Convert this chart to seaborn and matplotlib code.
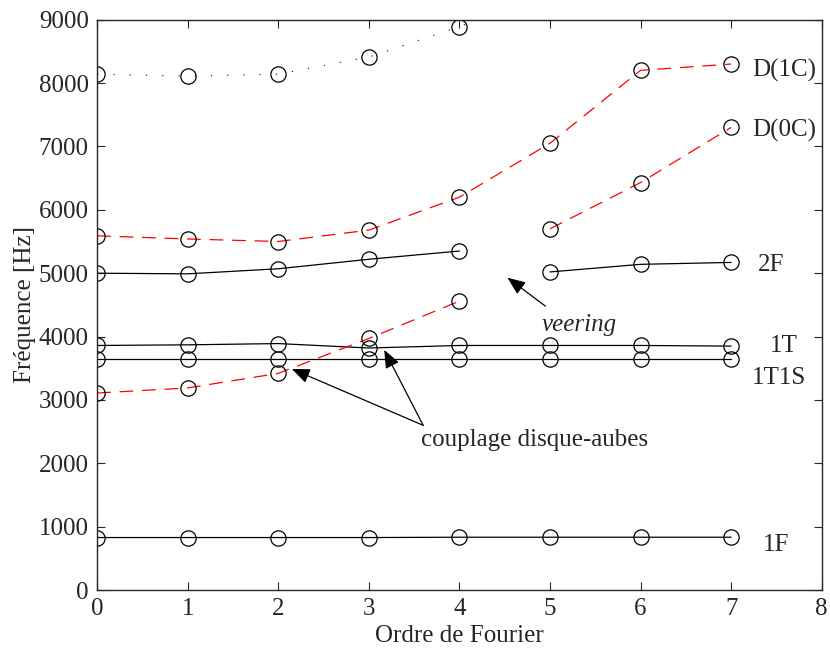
import matplotlib
matplotlib.use("Agg")
import matplotlib.pyplot as plt
import seaborn as sns

# ── Data ──────────────────────────────────────────────────────────────────────
ordre_a = [0, 1, 2, 3, 4]
ordre_b = [5, 6, 7]
ordre_all = [0, 1, 2, 3, 4, 5, 6, 7]
ordre_dot = [0, 1, 2, 3, 4, 5]

f_1F = [830, 830, 830, 830, 835, 835, 835, 835]
f_1T1S = [3640, 3640, 3640, 3640, 3640, 3640, 3640, 3640]
f_1T = [3860, 3870, 3890, 3820, 3860, 3860, 3860, 3850]
f_2F_a = [5000, 4990, 5070, 5220, 5350]
f_2F_b = [5020, 5140, 5170]
f_red_low_a = [3110, 3190, 3420, 3970, 4560]
f_red_low_b = [5700, 6430, 7300]
f_red_up = [5590, 5540, 5500, 5680, 6200, 7050, 8200, 8300]
f_dot = [8140, 8110, 8140, 8410, 8890, 9440]

mode_labels = ["D(1C)", "D(0C)", "2F", "1T", "1T1S", "1F"]
label_x = [7.23, 7.23, 7.3, 7.43, 7.23, 7.35]
label_y = [8200, 7250, 5130, 3850, 3340, 720]

# ── Style ─────────────────────────────────────────────────────────────────────
sns.set_style("ticks")
plt.rcParams["font.family"] = ["Liberation Serif", "DejaVu Serif"]
plt.rcParams["xtick.direction"] = "in"
plt.rcParams["ytick.direction"] = "in"
plt.rcParams["xtick.top"] = True
plt.rcParams["ytick.right"] = True

fig = plt.figure(figsize=(8.3, 6.55), dpi=100)
ax = fig.add_axes([0.117, 0.099, 0.873, 0.871])

mk = dict(marker="o", markersize=11, markerfacecolor="none",
          markeredgecolor="black", markeredgewidth=0.9)

def draw(x, y, color, dashes):
    sns.lineplot(x=x, y=y, ax=ax, color=color, linewidth=0.9,
                 sort=False, estimator=None)
    if dashes:
        ax.lines[-1].set_dashes(dashes)
    ax.plot(x, y, linestyle="none", **mk)

draw(ordre_all, f_1F, "black", None)
draw(ordre_all, f_1T1S, "black", None)
draw(ordre_all, f_1T, "black", None)
draw(ordre_a, f_2F_a, "black", None)
draw(ordre_b, f_2F_b, "black", None)
draw(ordre_dot, f_dot, "#333333", [1, 12])
draw(ordre_a, f_red_low_a, "red", [11, 7])
draw(ordre_b, f_red_low_b, "red", [11, 7])
draw(ordre_all, f_red_up, "red", [11, 7])

ax.set_xlim(0, 8)
ax.set_ylim(0, 9000)
ax.set_xticks(range(0, 9))
ax.set_yticks(range(0, 9001, 1000))
ax.tick_params(labelsize=18, length=6, width=0.8, pad=6)
for s in ax.spines.values():
    s.set_linewidth(1.0)
ax.set_xlabel("Ordre de Fourier", fontsize=18, labelpad=3)
ax.set_ylabel("Fréquence [Hz]", fontsize=18, labelpad=2)

for lab, lx, ly in zip(mode_labels, label_x, label_y):
    ax.text(lx, ly, lab, fontsize=18, va="center", ha="left")

# annotations
arrow = dict(arrowstyle="-|>,head_length=1.1,head_width=0.45", color="black",
             lw=0.9, shrinkA=0, shrinkB=0)
ax.annotate("", xy=(4.53, 4930), xytext=(4.95, 4480), arrowprops=arrow)
ax.text(5.32, 4180, "veering", fontsize=18, style="italic", ha="center", va="center")
ax.annotate("", xy=(2.15, 3490), xytext=(3.6, 2600), arrowprops=arrow)
ax.annotate("", xy=(3.17, 3790), xytext=(3.6, 2600), arrowprops=arrow)
ax.text(4.83, 2370, "couplage disque-aubes", fontsize=18, ha="center", va="center")

fig.savefig("out.png", dpi=100)
